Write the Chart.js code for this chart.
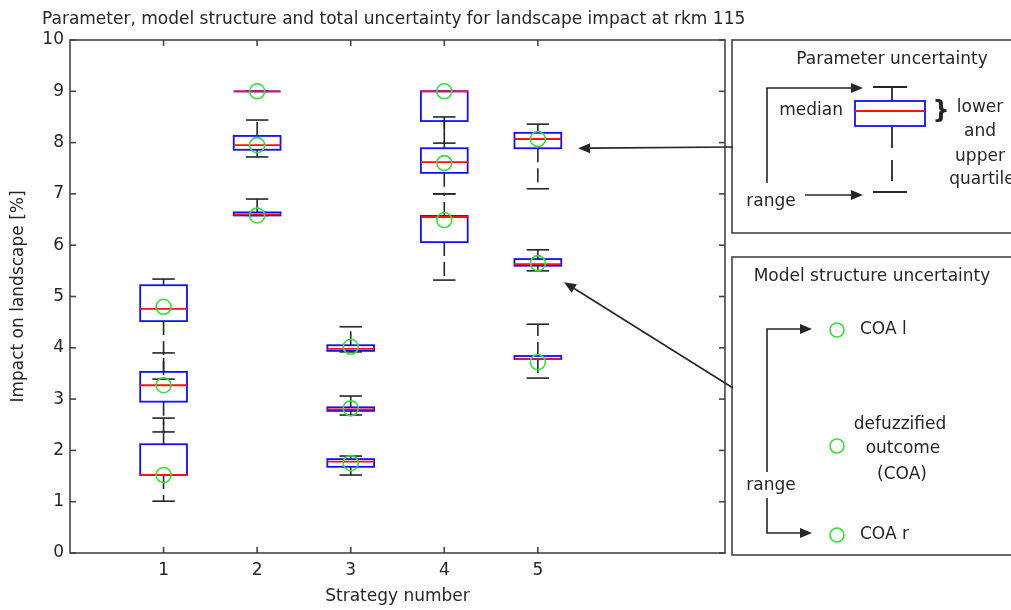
<!DOCTYPE html>
<html>
<head>
<meta charset="utf-8">
<title>Landscape impact uncertainty</title>
<script src="https://cdn.jsdelivr.net/npm/chart.js@4.4.0/dist/chart.umd.min.js"></script>
<style>
  html, body { margin: 0; padding: 0; background: #fff; }
  canvas { display: block; }
</style>
</head>
<body>
<canvas id="chart" width="1011" height="610"></canvas>
<script>
// strategies on the x axis, impact ticks on the y axis
const strategyNumbers = [1, 2, 3, 4, 5];
const impactTicks = [0, 1, 2, 3, 4, 5, 6, 7, 8, 9, 10];

// parameter uncertainty per strategy as [min, q1, median, q3, max]
const paramCoaL = [
    [3.39, 4.52, 4.76, 5.22, 5.34],
    [9.00, 9.00, 9.00, 9.00, 9.00],
    [3.92, 3.94, 3.98, 4.05, 4.41],
    [7.99, 8.42, 9.00, 9.00, 9.00],
    [7.10, 7.89, 8.07, 8.19, 8.36]
];
const paramCoa = [
    [2.36, 2.95, 3.27, 3.53, 3.90],
    [7.72, 7.86, 7.95, 8.13, 8.44],
    [2.69, 2.77, 2.80, 2.84, 3.06],
    [7.00, 7.41, 7.62, 7.89, 8.50],
    [5.50, 5.60, 5.63, 5.73, 5.91]
];
const paramCoaR = [
    [1.01, 1.52, 1.52, 2.12, 2.63],
    [6.58, 6.58, 6.60, 6.64, 6.90],
    [1.52, 1.68, 1.78, 1.83, 1.89],
    [5.32, 6.06, 6.55, 6.57, 7.00],
    [3.41, 3.78, 3.78, 3.84, 4.46]
];

// model structure uncertainty: defuzzified outcomes
const modelCoaL = [4.80, 9.00, 4.02, 9.00, 8.07];
const modelCoa = [3.27, 7.95, 2.82, 7.60, 5.65];
const modelCoaR = [1.52, 6.58, 1.75, 6.49, 3.72];

const ink = '#262626';
const frameColor = '#454545';
const textFont = '17px "DejaVu Sans"';
const green = '#33e033';

function line(ctx, x1, y1, x2, y2) {
    ctx.beginPath();
    ctx.moveTo(x1, y1);
    ctx.lineTo(x2, y2);
    ctx.stroke();
}

// polyline with a filled head at the last point
function arrow(ctx, pts) {
    const n = pts.length;
    const [x1, y1] = pts[n - 2];
    const [x2, y2] = pts[n - 1];
    const a = Math.atan2(y2 - y1, x2 - x1);
    const len = 12, w = 5;
    ctx.beginPath();
    ctx.moveTo(pts[0][0], pts[0][1]);
    for (let i = 1; i < n - 1; i++) ctx.lineTo(pts[i][0], pts[i][1]);
    ctx.lineTo(x2 - len * Math.cos(a), y2 - len * Math.sin(a));
    ctx.stroke();
    ctx.beginPath();
    ctx.moveTo(x2, y2);
    ctx.lineTo(x2 - len * Math.cos(a) + w * Math.sin(a), y2 - len * Math.sin(a) - w * Math.cos(a));
    ctx.lineTo(x2 - len * Math.cos(a) - w * Math.sin(a), y2 - len * Math.sin(a) + w * Math.cos(a));
    ctx.closePath();
    ctx.fill();
}

function drawWhiskers(ctx, xs, ys, xv, b) {
    const [mn, q1, , q3, mx] = b;
    const xc = xs.getPixelForValue(xv);
    const cap = xs.getPixelForValue(xv + 0.12) - xc;
    ctx.strokeStyle = ink;
    ctx.lineWidth = 1.6;
    ctx.setLineDash([14, 6]);
    if (mx > q3) line(ctx, xc, ys.getPixelForValue(q3), xc, ys.getPixelForValue(mx));
    if (mn < q1) line(ctx, xc, ys.getPixelForValue(q1), xc, ys.getPixelForValue(mn));
    ctx.setLineDash([]);
    line(ctx, xc - cap, ys.getPixelForValue(mx), xc + cap, ys.getPixelForValue(mx));
    line(ctx, xc - cap, ys.getPixelForValue(mn), xc + cap, ys.getPixelForValue(mn));
}

function drawBox(ctx, xs, ys, xv, b) {
    const [, q1, md, q3] = b;
    const xc = xs.getPixelForValue(xv);
    const half = xs.getPixelForValue(xv + 0.25) - xc;
    ctx.lineWidth = 1.8;
    ctx.strokeStyle = '#1010ff';
    ctx.strokeRect(xc - half, ys.getPixelForValue(q3), 2 * half, ys.getPixelForValue(q1) - ys.getPixelForValue(q3));
    ctx.strokeStyle = '#ff1010';
    line(ctx, xc - half, ys.getPixelForValue(md), xc + half, ys.getPixelForValue(md));
}

const boxPlotPlugin = {
    id: 'boxPlot',
    beforeDatasetsDraw(chart) {
        const { ctx, scales: { x, y } } = chart;
        const groups = [paramCoaL, paramCoa, paramCoaR];
        ctx.save();
        groups.forEach(g => g.forEach((b, i) => drawWhiskers(ctx, x, y, strategyNumbers[i], b)));
        groups.forEach(g => g.forEach((b, i) => drawBox(ctx, x, y, strategyNumbers[i], b)));
        ctx.restore();
    },
    afterDraw(chart) {
        const { ctx, chartArea: a, scales: { x, y } } = chart;
        ctx.save();

        // axes box with inward ticks on all four sides
        ctx.strokeStyle = frameColor;
        ctx.lineWidth = 1.6;
        ctx.strokeRect(a.left, a.top, a.right - a.left, a.bottom - a.top);
        strategyNumbers.forEach(v => {
            const px = x.getPixelForValue(v);
            line(ctx, px, a.bottom, px, a.bottom - 6);
            line(ctx, px, a.top, px, a.top + 6);
        });
        impactTicks.forEach(v => {
            const py = y.getPixelForValue(v);
            line(ctx, a.left, py, a.left + 6, py);
            line(ctx, a.right, py, a.right - 6, py);
        });

        // title
        ctx.fillStyle = ink;
        ctx.font = textFont;
        ctx.textBaseline = 'alphabetic';
        ctx.textAlign = 'left';
        ctx.fillText('Parameter, model structure and total uncertainty for landscape impact at rkm 115', 42, 24);

        // explanation panels
        ctx.strokeStyle = frameColor;
        ctx.lineWidth = 1.6;
        ctx.strokeRect(732, 40, 300, 193);
        ctx.strokeRect(732, 257, 300, 298);

        ctx.textBaseline = 'middle';
        ctx.textAlign = 'center';
        ctx.fillText('Parameter uncertainty', 892, 60);
        ctx.fillText('Model structure uncertainty', 872, 277);

        // sample box of the parameter panel
        ctx.strokeStyle = ink;
        ctx.lineWidth = 1.8;
        line(ctx, 873, 87, 907, 87);
        line(ctx, 892, 87, 892, 101);
        line(ctx, 873, 192, 907, 192);
        ctx.setLineDash([21, 12]);
        line(ctx, 892, 127, 892, 192);
        ctx.setLineDash([]);
        ctx.strokeStyle = '#1010ff';
        ctx.strokeRect(855, 101, 70, 25);
        ctx.strokeStyle = '#ff1010';
        line(ctx, 855, 111, 925, 111);

        ctx.fillStyle = ink;
        ctx.textAlign = 'right';
        ctx.fillText('median', 843, 111);
        ctx.textAlign = 'center';
        ctx.fillText('lower', 980, 108);
        ctx.fillText('and', 980, 132);
        ctx.fillText('upper', 980, 157);
        ctx.fillText('quartile', 982, 180);
        ctx.fillText('range', 771, 202);
        ctx.fillText('range', 771, 486);
        ctx.font = 'bold 24px "DejaVu Sans"';
        ctx.fillText('}', 941, 112);
        ctx.font = textFont;

        ctx.strokeStyle = ink;
        ctx.fillStyle = ink;
        ctx.lineWidth = 1.6;
        arrow(ctx, [[767, 183], [767, 88], [863, 88]]);
        arrow(ctx, [[805, 195], [863, 195]]);
        arrow(ctx, [[767, 472], [767, 329], [812, 329]]);
        arrow(ctx, [[767, 498], [767, 533], [812, 533]]);

        // model structure legend
        ctx.strokeStyle = green;
        [330, 446, 535].forEach(cy => {
            ctx.beginPath();
            ctx.arc(837, cy, 7, 0, Math.PI * 2);
            ctx.stroke();
        });
        ctx.fillStyle = ink;
        ctx.textAlign = 'left';
        ctx.fillText('COA l', 860, 330);
        ctx.fillText('COA r', 860, 535);
        ctx.textAlign = 'center';
        ctx.fillText('defuzzified', 900, 425);
        ctx.fillText('outcome', 903, 449);
        ctx.fillText('(COA)', 902, 475);

        // pointers from the panels to strategy 5
        ctx.strokeStyle = ink;
        ctx.lineWidth = 1.6;
        arrow(ctx, [[733, 147], [x.getPixelForValue(5.43), y.getPixelForValue(paramCoaL[4][1])]]);
        arrow(ctx, [[733, 388], [x.getPixelForValue(5.28), y.getPixelForValue(5.28)]]);

        ctx.restore();
    }
};

const circleStyle = {
    pointStyle: 'circle',
    pointRadius: 7.5,
    pointHoverRadius: 7.5,
    borderWidth: 1.6,
    borderColor: green,
    backgroundColor: 'rgba(0,0,0,0)'
};

const toPoints = vals => strategyNumbers.map((s, i) => ({ x: s, y: vals[i] }));

const axisFont = { family: 'DejaVu Sans', size: 17 };

new Chart(document.getElementById('chart').getContext('2d'), {
    type: 'scatter',
    data: {
        datasets: [
            Object.assign({ label: 'COA l', data: toPoints(modelCoaL) }, circleStyle),
            Object.assign({ label: 'COA', data: toPoints(modelCoa) }, circleStyle),
            Object.assign({ label: 'COA r', data: toPoints(modelCoaR) }, circleStyle)
        ]
    },
    options: {
        responsive: false,
        animation: false,
        layout: { padding: { left: 0, top: 40, right: 286, bottom: 0 } },
        plugins: {
            legend: { display: false },
            tooltip: { enabled: false }
        },
        scales: {
            x: {
                type: 'linear',
                min: 0,
                max: 7,
                afterBuildTicks: s => { s.ticks = strategyNumbers.map(v => ({ value: v })); },
                afterFit: s => { s.height = 57; },
                grid: { display: false, drawTicks: false },
                border: { display: false },
                ticks: { font: axisFont, color: ink, padding: 7, maxRotation: 0, autoSkip: false },
                title: { display: true, text: 'Strategy number', font: axisFont, color: ink, padding: { top: 0, bottom: 3 } }
            },
            y: {
                min: 0,
                max: 10,
                afterBuildTicks: s => { s.ticks = impactTicks.map(v => ({ value: v })); },
                afterFit: s => { s.width = 70; },
                grid: { display: false, drawTicks: false },
                border: { display: false },
                ticks: { font: axisFont, color: ink, padding: 6 },
                title: { display: true, text: 'Impact on landscape [%]', font: axisFont, color: ink, padding: { top: 8, bottom: 0 } }
            }
        }
    },
    plugins: [boxPlotPlugin]
});
</script>
</body>
</html>
